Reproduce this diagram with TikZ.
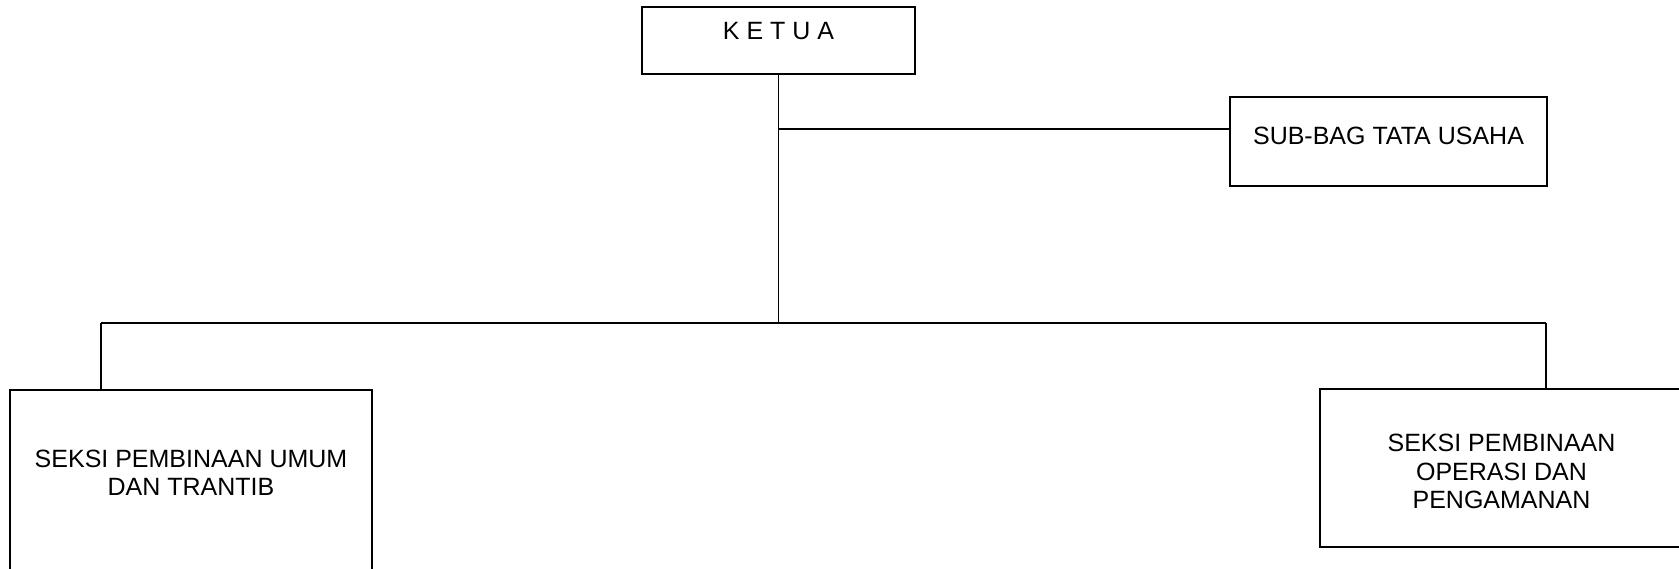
\documentclass[tikz,border=0pt]{standalone}
\usepackage{fontspec}
\setmainfont{Liberation Sans}
\begin{document}
\begin{tikzpicture}[x=1pt,y=-1pt,
  box/.style={draw, line width=2pt, rectangle, inner sep=0pt},
  lbl/.style={inner sep=0pt, align=center, font=\fontsize{25}{28.5}\selectfont},
  conn/.style={line width=1.5pt}]
\useasboundingbox (0,0) rectangle (1679,568);
\clip (0,0) rectangle (1679,568);
\node[box, minimum width=273pt, minimum height=67pt] (ketua) at (778.5,40.5) {};
\node[box, minimum width=317pt, minimum height=89pt] (sub) at (1388.5,141.5) {};
\node[box, minimum width=362pt, minimum height=210pt] (left) at (191,495) {};
\node[box, minimum width=400pt, minimum height=158pt] (right) at (1520,468) {};
\coordinate (j1) at (778.5,129);
\coordinate (j2) at (778.5,323);
\coordinate (bl) at (101,323);
\coordinate (br) at (1546,323);
\draw[conn] (ketua.south) -- (j2);
\draw[conn] (j1) -- (j1 -| sub.west);
\draw[conn] (bl) -- (br);
\draw[conn] (bl) -- (bl |- left.north);
\draw[conn] (br) -- (br |- right.north);
\node[lbl] (tk) at (778.5,31) {K E T U A};
\node[lbl] (ts) at (1388.5,136) {SUB-BAG TATA USAHA};
\node[lbl] (tl) at (191,473) {SEKSI PEMBINAAN UMUM\\DAN TRANTIB};
\node[lbl] (tr) at (1501.5,471.5) {SEKSI PEMBINAAN\\OPERASI DAN\\PENGAMANAN};
\end{tikzpicture}
\end{document}
